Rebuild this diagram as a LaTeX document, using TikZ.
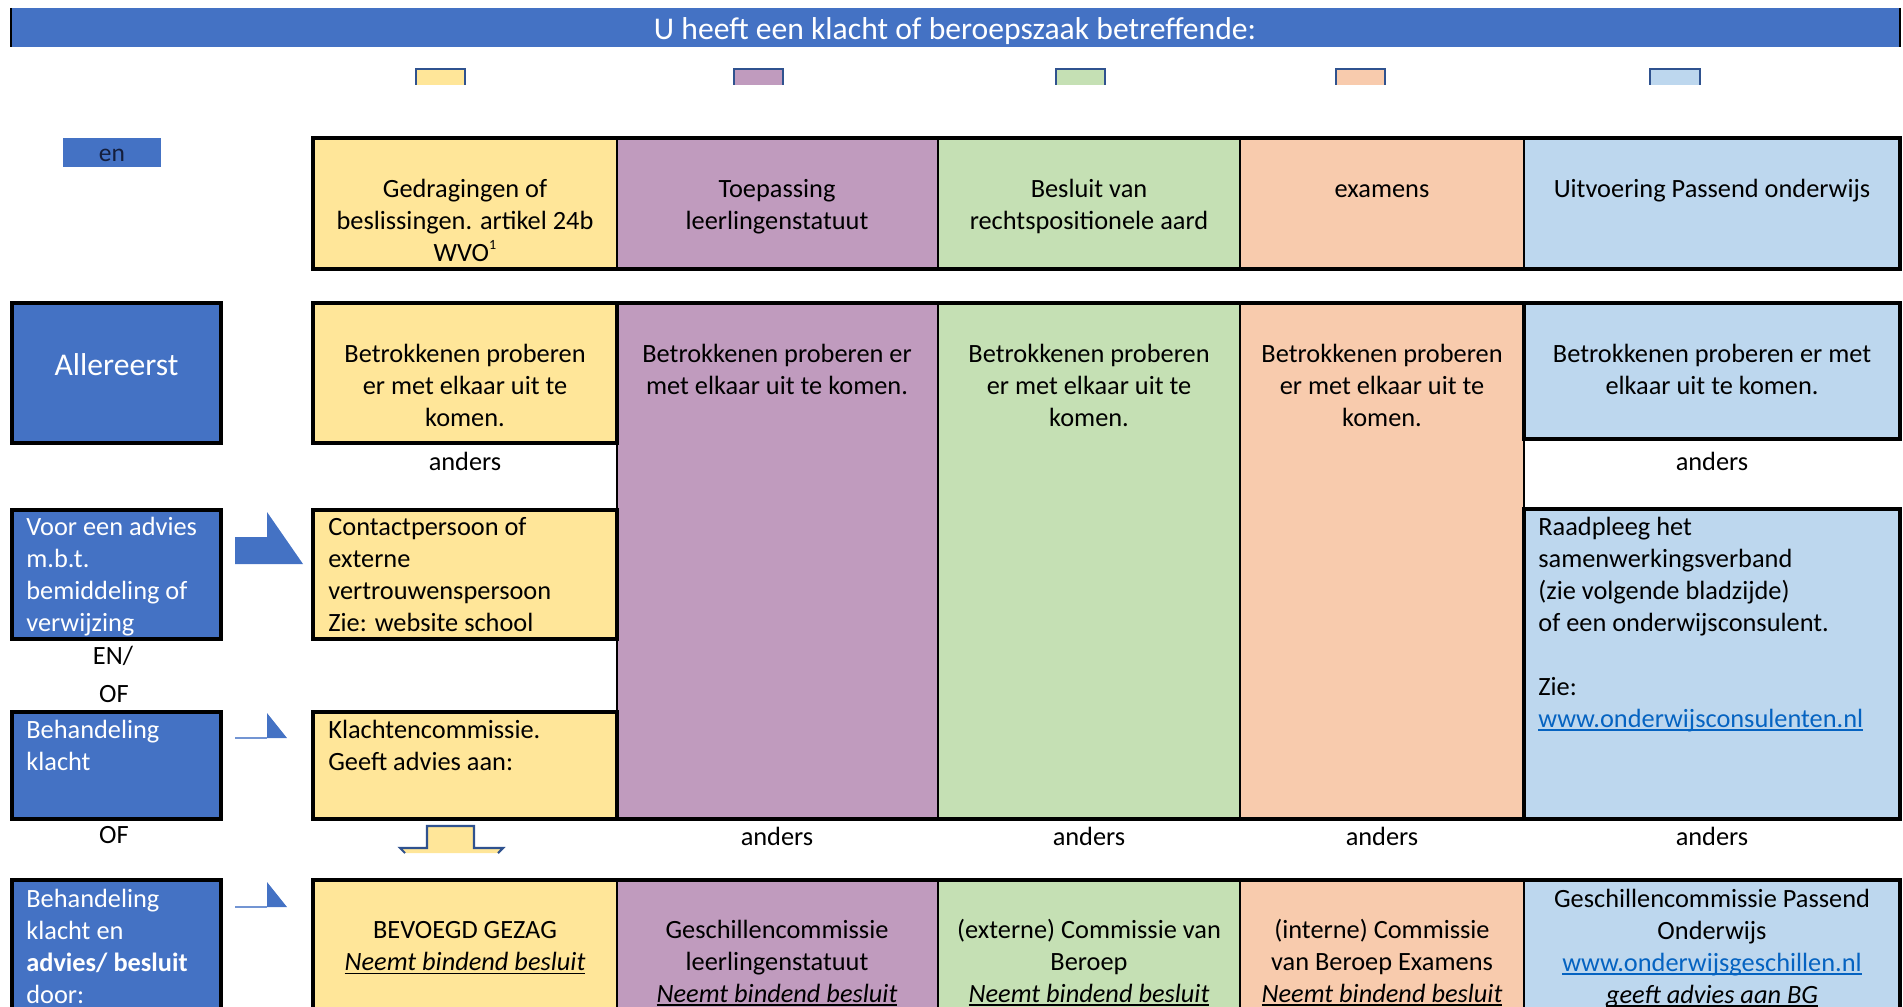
\documentclass[tikz,border=0pt]{standalone}
\usepackage{fontspec}
\setmainfont{Carlito}
\definecolor{tblue}{HTML}{4472C4}
\definecolor{ylw}{HTML}{FFE699}
\definecolor{prp}{RGB}{192,155,190}
\definecolor{grn}{HTML}{C5E0B4}
\definecolor{org}{HTML}{F8CBAD}
\definecolor{lbl}{HTML}{BDD7EE}
\definecolor{lnk}{HTML}{0563C1}
\definecolor{abd}{HTML}{2F528F}
\newcommand{\myul}[1]{\setbox0=\hbox{#1}\rlap{\rule[-2.2pt]{\wd0}{0.9pt}}\box0}
\newcommand{\st}{\rule{0pt}{12pt}}
\newcommand{\supone}{\raisebox{6.5pt}{\fontsize{8pt}{8pt}\selectfont 1}}
\begin{document}
\begin{tikzpicture}[x=0.02cm,y=-0.02cm,
  bdr/.style={line width=2pt},
  dvd/.style={line width=1.1pt},
  txt/.style={inner sep=0pt, font=\fontsize{15pt}{18.2pt}\selectfont, align=center, anchor=north},
  txtl/.style={inner sep=0pt, font=\fontsize{15pt}{18.2pt}\selectfont, align=left, anchor=north west},
  wtxt/.style={txtl, text=white},
  lab/.style={inner sep=0pt, font=\fontsize{15pt}{18.2pt}\selectfont, anchor=base},
  big/.style={inner sep=0pt, font=\fontsize{18pt}{21pt}\selectfont, anchor=base, text=white},
  arrbd/.style={abd, line width=1.2pt}
]
\useasboundingbox (0,0) rectangle (1903,1007);
\clip (0,0) rectangle (1903,1007);

% title bar
\fill[tblue] (10,8) rectangle (1900,47);
\draw[line width=1.2pt] (11,8) -- (11,47);
\draw[line width=1.2pt] (1900,8) -- (1900,47);
\node[big] (title) at (955,40) {U heeft een klacht of beroepszaak betreffende:};

% small arrow stubs
\foreach \xa/\xb/\c in {416/465/ylw, 734/783/prp, 1056/1105/grn, 1336/1385/org, 1650/1700/lbl}{
  \fill[\c] (\xa,69) rectangle (\xb,85);
  \draw[arrbd] (\xa,85) -- (\xa,69) -- (\xb,69) -- (\xb,85);
}

% en box
\fill[tblue] (63,138) rectangle (161,167);
\node[inner sep=0pt, font=\fontsize{14.5pt}{16pt}\selectfont, anchor=base, text={rgb,255:red,20;green,30;blue,60}] (en) at (112,161) {en};

% header row
\fill[ylw] (313,138) rectangle (617,269);
\fill[prp] (617,138) rectangle (938,269);
\fill[grn] (938,138) rectangle (1240,269);
\fill[org] (1240,138) rectangle (1524,269);
\fill[lbl] (1524,138) rectangle (1900,269);
\foreach \x in {617,938,1240,1524} \draw[dvd] (\x,138) -- (\x,269);
\draw[bdr] (313,138) rectangle (1900,269);
\node[txt] (h1) at (465,175.8) {\st Gedragingen of\\beslissingen. artikel 24b\\WVO\supone};
\node[txt] (h2) at (777,175.8) {\st Toepassing\\leerlingenstatuut};
\node[txt] (h3) at (1089,175.8) {\st Besluit van\\rechtspositionele aard};
\node[txt] (h4) at (1382,175.8) {\st examens};
\node[txt] (h5) at (1712,175.8) {\st Uitvoering Passend onderwijs};

% middle block fills
\fill[ylw] (313,303) rectangle (617,443);
\fill[ylw] (313,510) rectangle (617,639);
\fill[ylw] (313,712) rectangle (617,819);
\fill[prp] (617,303) rectangle (938,819);
\fill[grn] (938,303) rectangle (1240,819);
\fill[org] (1240,303) rectangle (1524,819);
\fill[lbl] (1524,303) rectangle (1900,439);
\fill[lbl] (1524,509) rectangle (1900,819);
\foreach \x in {617,938,1240,1524} \draw[dvd] (\x,303) -- (\x,819);
\draw[bdr] (313,303) -- (1900,303);
\draw[bdr] (313,819) -- (1900,819);
\draw[bdr] (313,303) rectangle (617,443);
\draw[bdr] (313,510) rectangle (617,639);
\draw[bdr] (313,712) rectangle (617,819);
\draw[bdr] (1524,303) rectangle (1900,439);
\draw[bdr] (1524,509) rectangle (1900,819);

% left blue boxes
\foreach \ya/\yb in {303/443, 510/639, 712/819, 880/1020}{
  \fill[tblue] (12,\ya) rectangle (221,\yb);
  \draw[bdr] (12,\ya) rectangle (221,\yb);
}
\node[big] (allereerst) at (116.5,375) {Allereerst};
\node[wtxt] (l2) at (26,513.8) {\st Voor een advies\\m.b.t.\\bemiddeling of\\verwijzing};
\node[wtxt] (l3) at (26,716.8) {\st Behandeling\\klacht};
\node[wtxt] (l4) at (26,885.8) {\st Behandeling\\klacht en\\\textbf{advies/ besluit}\\door:};
\node[lab] (en2) at (113,664) {EN/};
\node[lab] (of1) at (114,702) {OF};
\node[lab] (of2) at (114,843) {OF};

% row 2 texts
\node[txt] (a1) at (465,340.8) {\st Betrokkenen proberen\\er met elkaar uit te\\komen.};
\node[txt] (a2) at (777,340.8) {\st Betrokkenen proberen er\\met elkaar uit te komen.};
\node[txt] (a3) at (1089,340.8) {\st Betrokkenen proberen\\er met elkaar uit te\\komen.};
\node[txt] (a4) at (1382,340.8) {\st Betrokkenen proberen\\er met elkaar uit te\\komen.};
\node[txt] (a5) at (1712,340.8) {\st Betrokkenen proberen er met\\elkaar uit te komen.};

\node[lab] (and1) at (465,470) {anders};
\node[lab] (and2) at (1712,470) {anders};
\node[lab] (and3) at (777,845) {anders};
\node[lab] (and4) at (1089,845) {anders};
\node[lab] (and5) at (1382,845) {anders};
\node[lab] (and6) at (1712,845) {anders};

\node[txtl] (y2) at (328,513.8) {\st Contactpersoon of\\externe\\vertrouwenspersoon\\Zie: website school};
\node[txtl] (y3) at (328,716.8) {\st Klachtencommissie.\\Geeft advies aan:};
\node[txtl] (b2) at (1538,513.8) {\st Raadpleeg het\\samenwerkingsverband\\(zie volgende bladzijde)\\of een onderwijsconsulent.\\\mbox{}\\Zie:\\\textcolor{lnk}{\myul{www.onderwijsconsulenten.nl}}};

% arrows
\fill[tblue] (235,564) -- (235,537) -- (267,537) -- (267,512) -- (303,564) -- cycle;
\fill[tblue!75] (235,736.5) rectangle (267,738.5);
\fill[tblue] (267,713) -- (287,738) -- (267,738) -- cycle;
\fill[tblue!75] (235,905.5) rectangle (267,907.5);
\fill[tblue] (267,882) -- (287,907) -- (267,907) -- cycle;
\fill[ylw] (427,826) -- (474,826) -- (474,848) -- (503,848) -- (498,853) -- (405,853) -- (400,848) -- (427,848) -- cycle;
\draw[arrbd] (405,853) -- (400,848) -- (427,848) -- (427,826) -- (474,826) -- (474,848) -- (503,848) -- (498,853);

% bottom row
\fill[ylw] (313,880) rectangle (617,1020);
\fill[prp] (617,880) rectangle (938,1020);
\fill[grn] (938,880) rectangle (1240,1020);
\fill[org] (1240,880) rectangle (1524,1020);
\fill[lbl] (1524,880) rectangle (1900,1020);
\foreach \x in {617,938,1240,1524} \draw[dvd] (\x,880) -- (\x,1020);
\draw[bdr] (313,880) rectangle (1900,1020);
\node[txt] (c1) at (465,916.8) {\st BEVOEGD GEZAG\\\myul{\textit{Neemt bindend besluit}}};
\node[txt] (c2) at (777,916.8) {\st Geschillencommissie\\leerlingenstatuut\\\myul{\textit{Neemt bindend besluit}}};
\node[txt] (c3) at (1089,916.8) {\st (externe) Commissie van\\Beroep\\\myul{\textit{Neemt bindend besluit}}};
\node[txt] (c4) at (1382,916.8) {\st (interne) Commissie\\van Beroep Examens\\\myul{\textit{Neemt bindend besluit}}};
\node[txt] (c5) at (1712,885.8) {\st Geschillencommissie Passend\\Onderwijs\\\textcolor{lnk}{\myul{www.onderwijsgeschillen.nl}}\\\myul{\textit{geeft advies aan BG}}};
\end{tikzpicture}
\end{document}
